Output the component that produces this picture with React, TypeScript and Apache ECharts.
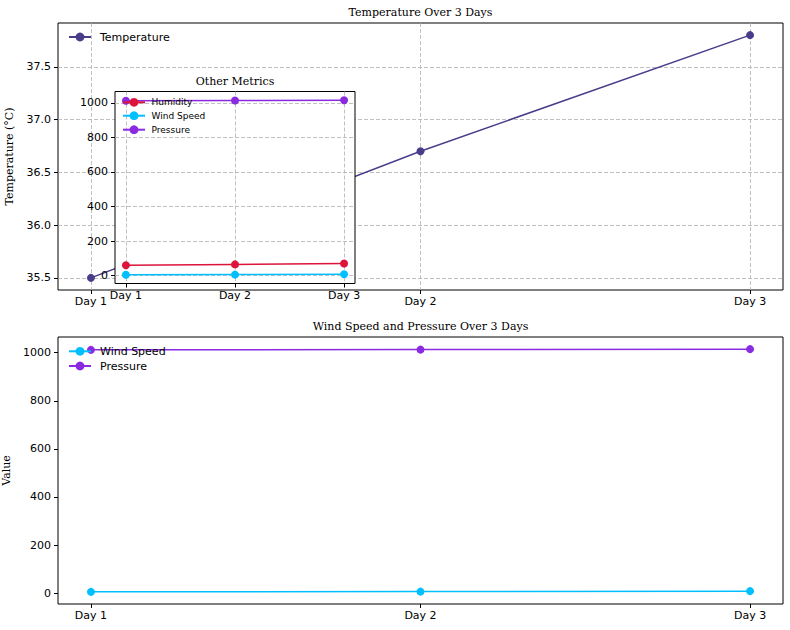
import React, { useEffect, useRef } from 'react';
import * as echarts from 'echarts';

const days = ['Day 1', 'Day 2', 'Day 3'];
const temperature = [35.5, 36.7, 37.8];
const humidity = [60, 65, 70];
const windSpeed = [5, 6, 8];
const pressure = [1012, 1013, 1015];
const tempTicks = [35.5, 36.0, 36.5, 37.0, 37.5];
const valueTicks = [0, 200, 400, 600, 800, 1000];

const C_TEMP = '#483D8B';
const C_HUM = '#DC143C';
const C_WIND = '#00BFFF';
const C_PRES = '#8A2BE2';

const SANS = 'DejaVu Sans';
const SERIF = 'DejaVu Serif';

function padRange(vals: number[]): [number, number] {
  const mn = Math.min(...vals);
  const mx = Math.max(...vals);
  const r = mx - mn;
  return [mn - 0.05 * r, mx + 0.05 * r];
}

const xIdx = days.map((_, i) => i);
const [xMin, xMax] = padRange(xIdx);

function xAxisCfg(gridIndex: number, grid: boolean, z: number) {
  return {
    type: 'value',
    gridIndex,
    min: xMin,
    max: xMax,
    z,
    axisLine: { show: false, onZero: false },
    axisTick: { show: true, customValues: xIdx, length: 4, lineStyle: { color: '#000', width: 1 } },
    axisLabel: {
      customValues: xIdx,
      formatter: (v: number) => days[Math.round(v)] ?? '',
      margin: 6,
      color: '#000',
      fontFamily: SANS,
      fontSize: 11,
    },
    splitLine: { show: grid, lineStyle: { color: '#b0b0b0', type: [4, 2], width: 0.8 } },
  };
}

function yAxisCfg(gridIndex: number, range: [number, number], ticks: number[], grid: boolean, z: number, name: string, fmt: (v: number) => string) {
  return {
    type: 'value',
    gridIndex,
    min: range[0],
    max: range[1],
    z,
    name,
    nameLocation: 'middle',
    nameGap: name === 'Value' ? 45 : 43,
    nameTextStyle: { fontFamily: SERIF, fontSize: 11, color: '#000' },
    axisLine: { show: false, onZero: false },
    axisTick: { show: true, customValues: ticks, length: 4, lineStyle: { color: '#000', width: 1 } },
    axisLabel: {
      customValues: ticks,
      formatter: fmt,
      margin: 7,
      color: '#000',
      fontFamily: SANS,
      fontSize: 11,
    },
    splitLine: { show: grid, lineStyle: { color: '#b0b0b0', type: [4, 2], width: 0.8 } },
  };
}

function lineSeries(name: string, vals: number[], color: string, axis: number, z: number) {
  return {
    type: 'line',
    name,
    xAxisIndex: axis,
    yAxisIndex: axis,
    data: vals.map((v, i) => [i, v]),
    symbol: 'circle',
    symbolSize: 8,
    lineStyle: { width: 1.5, color },
    itemStyle: { color, borderWidth: 0 },
    z,
  };
}

function legendCfg(name: string, left: number, top: number, fontSize: number, gap: number, z: number) {
  return {
    data: [name],
    left,
    top,
    padding: 0,
    itemWidth: 22,
    itemHeight: 11,
    z,
    textStyle: { fontFamily: SANS, fontSize, color: '#000', padding: [0, 0, 0, gap] },
  };
}

export default function App() {
  const ref = useRef<HTMLDivElement>(null);
  useEffect(() => {
    if (!ref.current) return;
    const chart = echarts.init(ref.current, null, { renderer: 'svg' });
    const topRange = padRange(temperature);
    const insetRange = padRange([...humidity, ...windSpeed, ...pressure]);
    const bottomRange = padRange([...windSpeed, ...pressure]);
    chart.setOption({
      animation: false,
      backgroundColor: '#fff',
      grid: [
        { left: 58, top: 23, width: 725, height: 267, show: true, borderColor: '#000', borderWidth: 1, backgroundColor: 'transparent', z: 0, outerBoundsMode: 'none' },
        { left: 115, top: 91.5, width: 240, height: 192, show: true, borderColor: '#000', borderWidth: 1, backgroundColor: '#fff', z: 5, outerBoundsMode: 'none' },
        { left: 58, top: 337, width: 725, height: 267, show: true, borderColor: '#000', borderWidth: 1, backgroundColor: 'transparent', z: 0, outerBoundsMode: 'none' },
      ],
      xAxis: [xAxisCfg(0, true, 0), xAxisCfg(1, true, 6), xAxisCfg(2, false, 0)],
      yAxis: [
        yAxisCfg(0, topRange, tempTicks, true, 0, 'Temperature (°C)', (v: number) => v.toFixed(1)),
        yAxisCfg(1, insetRange, valueTicks, true, 6, '', (v: number) => String(Math.round(v))),
        yAxisCfg(2, bottomRange, valueTicks, false, 0, 'Value', (v: number) => String(Math.round(v))),
      ],
      legend: [
        legendCfg('Temperature', 68, 31.5, 11, 4, 3),
        legendCfg('Humidity', 122, 97.8, 9, 1.5, 8),
        legendCfg('Wind Speed', 122, 111.2, 9, 1.5, 8),
        legendCfg('Pressure', 122, 125.2, 9, 1.5, 8),
        legendCfg('Wind Speed', 68, 345.8, 11, 4, 3),
        legendCfg('Pressure', 68, 360.5, 11, 4, 3),
      ],
      series: [
        lineSeries('Temperature', temperature, C_TEMP, 0, 2),
        lineSeries('Humidity', humidity, C_HUM, 1, 7),
        lineSeries('Wind Speed', windSpeed, C_WIND, 1, 7),
        lineSeries('Pressure', pressure, C_PRES, 1, 7),
        lineSeries('Wind Speed', windSpeed, C_WIND, 2, 2),
        lineSeries('Pressure', pressure, C_PRES, 2, 2),
      ],
      graphic: [
        { type: 'text', x: 420.5, y: 12.5, z: 10, style: { text: 'Temperature Over 3 Days', fontFamily: SERIF, fontSize: 11, fill: '#000', align: 'center', verticalAlign: 'middle' } },
        { type: 'text', x: 235, y: 81, z: 10, style: { text: 'Other Metrics', fontFamily: SERIF, fontSize: 11, fill: '#000', align: 'center', verticalAlign: 'middle' } },
        { type: 'text', x: 420.5, y: 326, z: 10, style: { text: 'Wind Speed and Pressure Over 3 Days', fontFamily: SERIF, fontSize: 11, fill: '#000', align: 'center', verticalAlign: 'middle' } },
      ],
    });
    return () => chart.dispose();
  }, []);
  return <div ref={ref} style={{ position: 'absolute', left: 0, top: 0, width: 790, height: 630 }} />;
}
